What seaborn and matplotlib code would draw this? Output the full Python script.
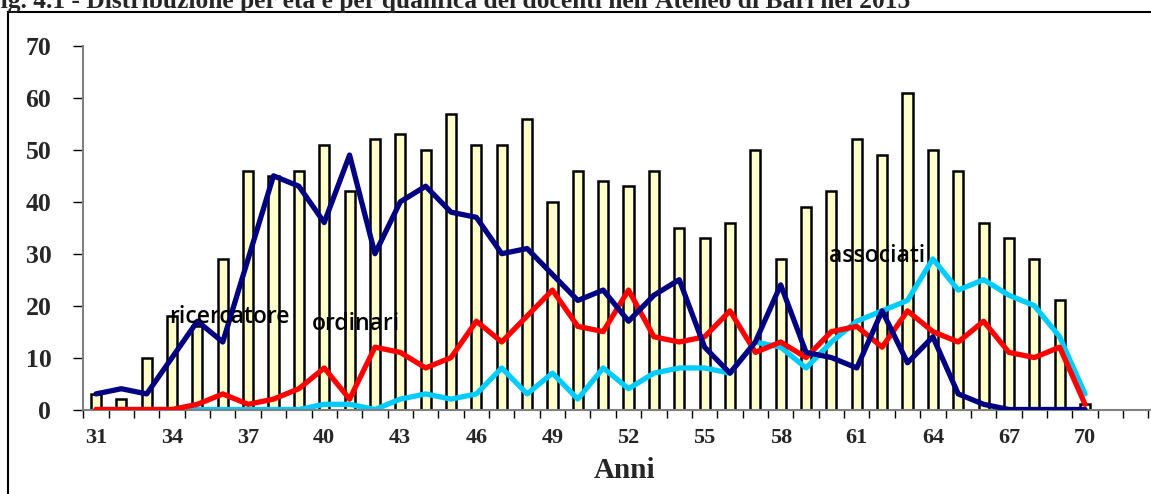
import numpy as np
import matplotlib
matplotlib.use("Agg")
import matplotlib.pyplot as plt
from matplotlib.patches import Rectangle
import seaborn as sns

sns.set_style("ticks")
plt.rcParams["font.family"] = ["Liberation Serif", "DejaVu Serif"]

# eta' dei docenti (anni)
eta = [31, 32, 33, 34, 35, 36, 37, 38, 39, 40,
       41, 42, 43, 44, 45, 46, 47, 48, 49, 50,
       51, 52, 53, 54, 55, 56, 57, 58, 59, 60,
       61, 62, 63, 64, 65, 66, 67, 68, 69, 70]

# totale docenti per eta'
totale = [3, 2, 10, 18, 16, 29, 46, 45, 46, 51,
          42, 52, 53, 50, 57, 51, 51, 56, 40, 46,
          44, 43, 46, 35, 33, 36, 50, 29, 39, 42,
          52, 49, 61, 50, 46, 36, 33, 29, 21, 1]

ricercatore = [3, 4, 3, 10, 17, 13, 29, 45, 43, 36,
               49, 30, 40, 43, 38, 37, 30, 31, 26, 21,
               23, 17, 22, 25, 12, 7, 13, 24, 11, 10,
               8, 19, 9, 14, 3, 1, 0, 0, 0, 0]

ordinari = [0, 0, 0, 0, 1, 3, 1, 2, 4, 8,
            2, 12, 11, 8, 10, 17, 13, 18, 23, 16,
            15, 23, 14, 13, 14, 19, 11, 13, 10, 15,
            16, 12, 19, 15, 13, 17, 11, 10, 12, 1]

associati = [0, 0, 0, 0, 0, 0, 0, 0, 0, 1,
             1, 0, 2, 3, 2, 3, 8, 3, 7, 2,
             8, 4, 7, 8, 8, 7, 13, 12, 8, 13,
             17, 19, 21, 29, 23, 25, 22, 20, 14, 3]

tick_eta = [31, 34, 37, 40, 43, 46, 49, 52, 55, 58, 61, 64, 67, 70]
y_ticks = [0, 10, 20, 30, 40, 50, 60, 70]

W, H = 1151, 494
fig = plt.figure(figsize=(W / 100, H / 100), dpi=100)
ax = fig.add_axes([83.3 / W, (H - 409.5) / H, 1 - 83.3 / W, 363.5 / H])

sns.barplot(x=eta, y=totale, native_scale=True, color="#FFFFCC", saturation=1,
            edgecolor="black", linewidth=1.8, width=0.4, ax=ax, zorder=1)
sns.lineplot(x=eta, y=associati, color="#00CCFF", linewidth=3.8, ax=ax, zorder=2)
sns.lineplot(x=eta, y=ordinari, color="#FF0000", linewidth=3.8, ax=ax, zorder=3)
sns.lineplot(x=eta, y=ricercatore, color="#000080", linewidth=3.8, ax=ax, zorder=4)

lab_font = dict(family=["Open Sans", "DejaVu Sans"], fontsize=16.5, fontweight="semibold",
                color="black", ha="left", va="baseline", zorder=5)
ax.text(33.9, 16.7, "ricercatore", **lab_font)
ax.text(39.5, 15.3, "ordinari", **lab_font)
ax.text(59.9, 28.4, "associati", **lab_font)

ax.set_xlim(30.5, 30.5 + (W - 83.3) / 25.36)
ax.set_ylim(0, 70)
ax.set_xticks(tick_eta)
ax.set_xticklabels([str(t) for t in tick_eta], fontsize=16, fontweight="bold")
ax.set_xticks(np.arange(30.5, 73.5, 1), minor=True)
ax.tick_params(axis="x", which="major", length=0, pad=13)
ax.tick_params(axis="x", which="minor", length=6, width=1, color="black", direction="out")
ax.set_yticks(y_ticks)
ax.set_yticklabels([str(t) for t in y_ticks], fontsize=18.5, fontweight="bold")
ax.tick_params(axis="y", length=7, width=1, color="black", pad=16, direction="out")
ax.set_ylabel("")
ax.set_xlabel("Anni", fontsize=21, fontweight="bold", va="baseline")
ax.xaxis.set_label_coords(0.507, -0.188)

sns.despine(ax=ax)
for s in ["left", "bottom"]:
    ax.spines[s].set_color("#808080")
    ax.spines[s].set_linewidth(1.5)

# cornice esterna del grafico
fig.add_artist(Rectangle((8 / W, -0.1), 1.2, (H - 12) / H + 0.1, fill=False,
                         edgecolor="black", linewidth=1.5, transform=fig.transFigure))

fig.text(910 / W, (H - 8) / H,
         "Fig. 4.1 - Distribuzione per età e per qualifica dei docenti nell'Ateneo di Bari nel 2015",
         ha="right", va="baseline", fontsize=18.4, fontweight="bold")

fig.savefig("out.png", dpi=100)
